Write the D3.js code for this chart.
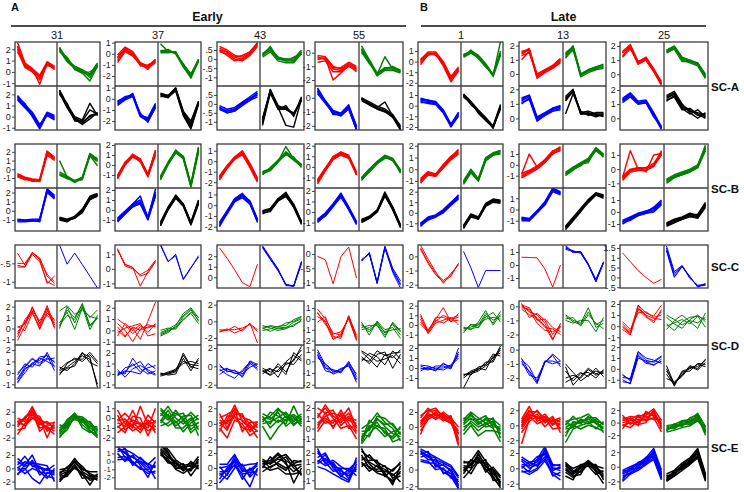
<!DOCTYPE html>
<html><head><meta charset="utf-8">
<script src="https://cdn.jsdelivr.net/npm/d3@7"></script>
<style>body{margin:0;background:#fff}svg{display:block;font-family:Arial,"Liberation Sans",sans-serif}</style>
</head><body>
<script>
// ---------- labels ----------
const panelLetters = ["A", "B"];
const groupLabels = ["Early", "Late"];
const colLabels = ["31", "37", "43", "55", "1", "13", "25"];
const rowLabels = ["SC-A", "SC-B", "SC-C", "SC-D", "SC-E"];
const colors4 = ["#ff0000", "#008000", "#0000ff", "#000000"];
const colors2 = ["#ff0000", "#0000ff"];

// ---------- y domains & ticks (per column: [top panel, bottom panel]) ----------
const domA = [[[-1.25,2.65],[-1.2,2.75]],[[-2.9,1.06],[-2.8,1.15]],[[-1.48,0.94],[-1.46,1.0]],[[-2.44,0.78],[-2.3,0.84]],[[-2.3,1.85],[-2.28,1.84]],[[-0.85,2.26],[-0.8,2.23]],[[-0.83,2.28],[-0.83,2.28]]];
const ticksA = [[[2,1,0,-1],[2,1,0,-1]],[[1,0,-1,-2],[1,0,-1,-2]],[[0.5,0,-0.5,-1],[0.5,0,-0.5,-1]],[[0,-1,-2],[0,-1,-2]],[[1,0,-1,-2],[1,0,-1,-2]],[[2,1,0],[2,1,0]],[[2,1,0],[2,1,0]]];
const domB = [[[-2.15,2.9],[-2.2,2.5]],[[-2.3,2.1],[-2.1,2.2]],[[-2.55,1.64],[-2.4,1.6]],[[-2.0,2.16],[-1.8,2.28]],[[-1.6,2.15],[-1.73,2.35]],[[-2.14,1.93],[-1.92,1.92]],[[-1.33,1.77],[-1.58,2.0]]];
const ticksB = [[[2,1,0,-1],[2,1,0,-1]],[[2,1,0,-1],[2,1,0,-1]],[[1,0,-1,-2],[1,0,-1,-2]],[[2,1,0,-1],[2,1,0,-1]],[[2,1,0,-1],[2,1,0,-1]],[[1,0,-1],[1,0,-1]],[[1,0,-1],[1,0,-1]]];
const domC = [[-1.17,0.0],[-1.32,1.64],[-1.02,3.07],[-1.2,0.32],[-2.23,0.8],[-1.77,1.54],[-0.54,1.65]];
const ticksC = [[-0.5,-1],[1,0,-1],[2,1,0],[0,-0.5,-1],[0,-1,-2],[1,0,-1],[1.5,1,0.5,0,-0.5]];
const domD = [[[-1.52,2.52],[-1.32,2.44]],[[-1.3,2.6],[-1.33,2.76]],[[-2.84,2.44],[-2.36,2.33]],[[-2.4,1.64],[-2.28,1.4]],[[-2.06,2.48],[-2.0,2.3]],[[-2.74,0.37],[-2.7,0.33]],[[-1.7,2.27],[-1.77,2.2]]];
const ticksD = [[[2,1,0,-1],[2,1,0,-1]],[[2,1,0,-1],[2,1,0,-1]],[[2,0,-2],[2,0,-2]],[[1,0,-1,-2],[1,0,-1,-2]],[[2,1,0,-1],[2,1,0,-1]],[[0,-1,-2],[0,-1,-2]],[[2,1,0,-1],[2,1,0,-1]]];
const domE = [[[-3.43,3.5],[-3.1,3.2]],[[-2.95,1.64],[-3.46,1.8]],[[-2.96,2.8],[-2.8,2.8]],[[-1.8,2.58],[-1.96,2.66]],[[-2.67,3.33],[-2.33,2.72]],[[-2.9,3.1],[-2.7,2.78]],[[-3.9,3.3],[-3.05,2.7]]];
const ticksE = [[[2,0,-2],[2,0,-2]],[[1,0,-1,-2],[1,0,-1,-2]],[[2,0,-2],[2,0,-2]],[[2,1,0,-1],[2,1,0,-1]],[[2,0,-2],[2,0,-2]],[[2,0,-2],[2,0,-2]],[[2,0,-2],[2,0,-2]]];

// ---------- series: per column -> [red, green, blue, black] (SC-C: [red, blue]) -> lines of 6 time points ----------
const scA = [
 [ // 31
  [[2.3,0.6,0.2,-0.5,0.8,0.4],[2.6,0.8,0.3,-0.3,0.9,0.5],[2.0,0.4,0.0,-0.7,0.6,0.3],[2.2,0.7,0.3,-1.1,0.8,0.2],[1.8,0.5,0.1,-0.4,0.7,0.5]],
  [[2.0,1.2,0.3,0.0,-0.3,0.6],[2.2,1.0,0.4,0.1,-0.5,0.7],[1.8,1.3,0.2,-0.1,-0.8,0.5],[2.1,1.1,0.5,0.2,-0.2,0.8],[1.9,0.9,0.3,-0.1,0.0,0.4]],
  [[1.8,1.0,0.2,-0.9,0.2,-0.1],[1.5,0.8,0.1,-1.0,0.3,0.0],[1.9,1.1,0.4,-0.7,0.1,-0.3],[1.6,0.9,0.2,-0.8,0.4,0.1],[1.7,1.2,0.0,-1.1,0.2,-0.2]],
  [[2.3,1.0,-0.1,-0.5,0.0,0.2],[2.1,0.8,-0.3,-0.6,0.1,0.3],[2.4,1.1,0.0,-0.3,1.2,0.1],[2.2,0.9,-0.2,-0.7,-0.2,0.4],[2.0,1.2,-0.4,-0.4,0.6,0.2]]
 ],
 [ // 37
  [[-0.4,0.4,0.0,-0.9,-1.2,-0.6],[-0.1,0.6,0.2,-0.8,-1.1,-0.5],[-0.8,0.2,-0.2,-1.0,-1.3,-0.8],[-0.3,0.5,0.1,-1.1,-1.0,-0.7],[-0.6,0.3,-0.1,-0.9,-1.4,-0.5]],
  [[0.2,0.2,0.1,-1.0,-2.0,-0.6],[0.3,0.3,0.0,-0.9,-1.9,-0.5],[0.1,0.1,0.2,-1.1,-2.2,-0.7],[0.9,0.2,0.1,-1.0,-1.8,-0.6],[0.2,0.4,0.0,-1.2,-2.1,-0.5]],
  [[-0.4,0.0,0.3,-1.5,-1.9,-0.6],[-0.2,0.1,0.4,-1.4,-1.8,-0.5],[-0.6,-0.1,0.2,-1.6,-2.0,-0.8],[-0.3,0.2,0.3,-1.3,-2.1,-0.7],[-0.5,0.0,0.5,-1.5,-1.7,-0.4]],
  [[0.4,0.2,0.9,-1.3,-2.4,-0.3],[0.5,0.3,1.0,-1.2,-2.2,-0.2],[0.3,0.1,0.8,-1.4,-2.6,-0.4],[0.4,0.3,0.9,-1.1,-2.0,-0.3],[0.2,0.2,0.7,-1.5,-2.7,-0.5]]
 ],
 [ // 43
  [[0.5,0.4,0.1,0.0,0.3,0.8],[0.7,0.5,0.2,0.1,0.4,0.9],[0.4,0.3,0.0,-0.1,0.2,0.7],[0.6,0.4,0.1,0.2,0.4,0.8],[0.5,0.2,-0.1,0.0,0.3,0.9]],
  [[0.2,0.5,0.0,-0.1,-0.1,0.4],[0.3,0.6,0.1,0.0,0.0,0.5],[0.1,0.4,-0.1,-0.2,-0.2,0.3],[0.2,0.7,0.0,0.0,-0.1,0.4],[0.3,0.5,0.1,-0.1,0.1,0.3]],
  [[-0.2,-0.4,-0.3,0.0,0.3,0.5],[-0.3,-0.5,-0.4,-0.1,0.2,0.6],[-0.1,-0.3,-0.2,0.1,0.4,0.7],[-0.3,-0.4,-0.3,0.0,0.2,0.4],[-0.2,-0.5,-0.4,0.1,0.3,0.6]],
  [[-1.0,0.7,-0.2,-0.2,-0.6,0.3],[-0.9,0.8,-0.1,-0.3,-0.5,0.2],[-1.2,0.6,-0.3,-0.1,-0.7,0.4],[-0.8,0.7,-0.2,-1.2,-1.3,0.3],[-1.1,0.8,-0.3,-0.3,-0.6,0.2]]
 ],
 [ // 55
  [[-0.4,-0.4,-1.2,-1.3,-0.9,-1.2],[-0.2,-0.3,-1.0,-1.2,-0.8,-1.1],[-0.7,-0.6,-1.4,-1.4,-1.0,-1.3],[-0.5,-0.4,-2.0,-1.5,-0.9,-1.4],[-0.3,-0.5,-1.1,-1.1,-0.7,-1.0]],
  [[0.2,-0.6,-1.6,-1.2,-1.2,-1.4],[0.5,-0.5,-1.5,-1.1,-1.1,-1.3],[0.0,-0.7,-1.7,-1.3,-1.3,-1.5],[0.3,-0.6,-1.6,-0.3,-1.2,-1.4],[0.1,-0.8,-1.5,-1.2,-1.0,-1.3]],
  [[0.5,-0.3,-1.0,-1.2,-0.7,-2.2],[0.7,-0.2,-0.9,-1.1,-0.6,-2.0],[0.3,-0.4,-1.1,-1.3,-0.8,-2.3],[0.6,-0.3,-1.0,-1.1,-0.5,-2.1],[0.4,-0.2,-1.2,-1.2,-0.8,-2.3]],
  [[-0.1,-0.4,-0.7,-0.9,-1.3,-2.2],[0.0,-0.3,-0.6,-0.8,-1.2,-2.0],[-0.2,-0.5,-0.8,-1.0,-1.4,-2.3],[-0.1,-0.4,-0.7,-0.3,-1.3,-2.1],[0.0,-0.5,-0.8,-1.0,-1.2,-2.3]]
 ],
 [ // 1
  [[0.0,0.8,0.8,-0.2,-1.6,-0.7],[0.2,0.9,0.9,0.0,-1.4,-0.6],[-0.3,0.7,0.7,-0.4,-1.9,-0.9],[0.1,0.8,0.6,-0.1,-1.5,-0.5],[-0.1,0.6,0.8,-0.3,-1.7,-0.8]],
  [[0.5,0.9,0.5,-0.3,-1.3,0.8],[0.6,1.0,0.6,-0.2,-1.2,1.0],[0.4,0.8,0.4,-0.4,-1.4,0.6],[0.5,1.1,0.5,-0.3,-1.3,1.9],[0.7,0.9,0.3,-0.5,-1.2,0.7]],
  [[0.5,0.4,0.3,-0.5,-1.8,-0.8],[0.6,0.5,0.4,-0.4,-1.7,-0.7],[0.3,0.3,0.2,-0.6,-2.0,-0.9],[0.7,0.5,0.3,-0.5,-1.8,-0.6],[0.4,0.2,0.1,-0.7,-1.9,-1.0]],
  [[1.0,0.3,-0.5,-1.2,-2.0,0.0],[0.9,0.2,-0.6,-1.3,-2.1,-0.2],[1.1,0.4,-0.4,-1.1,-1.9,0.1],[0.8,0.3,-0.7,-1.4,-2.0,-0.3],[1.0,0.1,-0.5,-1.2,-2.1,0.0]]
 ],
 [ // 13
  [[1.4,1.7,-0.2,0.2,0.5,1.0],[1.5,1.8,-0.1,0.3,0.6,1.1],[1.0,1.6,-0.3,0.1,0.4,0.9],[1.6,1.7,-0.2,0.2,0.6,1.0],[1.3,1.5,0.0,0.3,0.4,0.8]],
  [[1.3,1.9,-0.1,0.2,0.4,0.5],[1.4,2.0,0.0,0.3,0.5,0.6],[1.1,1.8,-0.2,0.1,0.3,0.4],[1.5,1.9,-0.1,0.3,0.5,0.7],[1.2,1.7,0.0,0.2,0.4,0.5]],
  [[1.2,1.5,0.0,0.3,0.6,0.8],[1.3,1.6,0.1,0.4,0.7,0.9],[1.0,1.4,-0.1,0.2,0.5,0.7],[1.4,1.6,0.0,0.3,0.7,0.8],[1.1,1.3,-0.2,0.2,0.5,0.6]],
  [[1.3,1.9,0.4,0.3,0.3,0.3],[1.4,1.8,0.3,0.4,0.2,0.2],[0.3,1.7,0.5,0.2,0.4,0.4],[1.2,1.9,0.4,0.5,0.3,0.1],[1.5,2.0,0.3,0.3,0.1,0.3]]
 ],
 [ // 25
  [[1.5,2.0,0.8,1.1,0.3,-0.7],[1.6,2.1,0.9,1.2,0.4,-0.6],[1.3,1.9,0.7,1.0,0.2,-0.8],[1.5,2.0,0.8,1.2,0.3,-0.5],[1.2,1.8,0.9,1.0,0.2,-0.7]],
  [[1.6,1.9,1.1,0.9,0.7,-0.2],[1.7,2.0,1.2,1.0,0.8,-0.1],[1.5,1.8,1.0,0.8,0.6,-0.3],[1.7,1.9,1.1,1.0,0.7,-0.2],[1.6,1.8,0.9,0.9,0.8,0.0]],
  [[1.3,1.7,1.1,1.2,0.3,-0.7],[1.4,1.8,1.2,1.3,0.4,-0.6],[1.2,1.6,1.0,1.1,0.2,-0.8],[1.3,1.7,1.1,1.2,0.3,-0.7],[1.1,1.5,1.0,1.1,0.1,-0.6]],
  [[1.4,1.7,0.8,0.5,0.4,0.2],[1.5,1.8,0.9,0.6,0.2,0.3],[1.2,1.6,0.7,0.3,0.6,0.1],[1.6,1.9,1.0,0.4,0.0,0.4],[1.3,1.5,0.6,0.7,0.3,0.0]]
 ]
];

const scB = [
 [ // 31
  [[-0.7,-1.0,-1.2,-1.3,1.9,1.2],[-0.5,-0.9,-1.1,-1.2,2.1,1.4],[-0.9,-1.1,-1.3,-1.4,1.7,1.0],[-0.6,-1.0,-1.4,-1.2,2.0,1.3],[-0.8,-1.2,-1.2,-1.3,1.6,1.1]],
  [[-0.5,-0.9,-1.4,-1.0,1.7,1.0],[-0.3,-0.8,-1.3,-0.9,1.8,1.1],[-0.7,-1.0,-1.5,-1.1,1.5,0.9],[1.0,-0.9,-1.4,-1.0,1.6,0.4],[-0.6,-1.1,-1.3,-1.2,1.8,1.2]],
  [[-1.0,-1.1,-1.0,-1.0,2.2,1.5],[-0.9,-1.0,-0.9,-0.9,2.4,1.7],[-1.2,-1.2,-1.1,-1.1,2.0,1.3],[-1.0,-1.1,-1.0,-1.2,2.3,1.6],[-1.1,-1.0,-1.1,-0.9,2.1,1.4]],
  [[-0.8,-1.0,-0.7,0.0,1.4,1.7],[-0.7,-0.9,-0.6,0.2,1.5,1.8],[-0.9,-1.1,-0.8,-0.2,1.3,1.6],[-0.8,-1.0,-0.8,0.1,1.6,1.9],[-1.0,-1.2,-0.6,-0.1,1.2,1.7]]
 ],
 [ // 37
  [[-1.2,0.2,0.9,0.5,-1.0,1.2],[-1.0,0.3,1.0,0.6,-0.9,1.4],[-1.4,0.0,0.8,0.4,-1.2,1.0],[-1.1,0.2,1.1,0.6,-1.0,1.3],[-1.3,0.1,0.9,0.3,-1.1,1.5]],
  [[-1.3,0.2,1.3,0.8,-2.0,1.5],[-1.1,0.3,1.4,0.9,-1.9,1.7],[-1.5,0.1,1.2,0.7,-2.2,1.3],[-1.2,0.2,1.5,0.8,-2.0,1.8],[-1.4,0.0,1.3,0.6,-2.1,1.4]],
  [[-1.0,-0.3,0.5,0.8,-0.8,1.6],[-0.8,-0.1,0.6,1.0,-0.7,1.8],[-1.2,-0.4,0.4,0.6,-1.0,1.4],[-0.9,-0.2,0.6,1.4,-0.8,2.1],[-1.1,-0.4,0.3,0.7,-0.9,1.5]],
  [[-1.4,0.2,1.3,0.5,-1.3,0.8],[-1.2,0.3,1.4,0.6,-1.2,0.9],[-1.6,0.1,1.2,0.4,-1.5,0.6],[-1.3,0.2,1.5,0.6,-1.3,1.0],[-1.5,0.0,1.2,0.4,-1.4,0.7]]
 ],
 [ // 43
  [[-1.6,-0.5,0.3,0.8,-0.4,-1.8],[-1.4,-0.4,0.4,0.9,-0.3,-1.7],[-1.8,-0.6,0.2,0.7,-0.6,-2.0],[-1.5,-0.5,0.4,1.0,-0.2,-1.6],[-1.7,-0.7,0.2,0.6,-0.5,-1.9]],
  [[-1.1,-0.8,0.0,0.8,0.2,-0.4],[-1.0,-0.7,0.1,0.9,0.3,-0.3],[-1.2,-0.9,-0.1,0.7,0.1,-0.5],[-1.0,-0.8,0.0,1.4,0.2,-0.4],[-1.3,-0.6,0.1,0.6,0.4,-0.6]],
  [[-1.8,-0.6,0.5,0.9,0.3,-1.4],[-1.6,-0.5,0.6,1.0,0.4,-1.3],[-2.0,-0.7,0.4,0.8,0.2,-1.6],[-1.7,-0.6,0.6,1.1,0.3,-1.4],[-1.9,-0.8,0.3,0.7,0.1,-1.5]],
  [[-0.6,-0.4,0.5,1.0,0.0,-1.6],[-0.5,-0.3,0.6,1.1,0.1,-1.5],[-0.8,-0.5,0.4,0.9,-0.2,-1.8],[-0.6,-0.4,0.6,1.2,0.0,-1.6],[-0.7,-0.6,0.4,0.8,-0.1,-1.7]]
 ],
 [ // 55
  [[-1.4,-0.2,0.8,1.3,1.0,-0.6],[-1.2,-0.1,0.9,1.4,1.1,-0.5],[-1.6,-0.4,0.7,1.2,0.9,-0.8],[-1.3,-0.2,1.0,1.4,1.0,-0.6],[-1.5,-0.3,0.7,1.1,0.8,-0.7]],
  [[-1.1,-0.3,0.4,1.0,0.7,-0.4],[-1.0,-0.2,0.5,1.1,0.8,-0.3],[-1.3,-0.4,0.3,0.9,0.6,-0.5],[-1.1,-0.3,0.5,1.0,0.6,-0.4],[-1.2,-0.5,0.3,0.8,0.8,-0.6]],
  [[-0.8,-0.2,0.7,1.6,0.4,-1.0],[-0.7,-0.1,0.8,1.8,0.5,-0.9],[-1.0,-0.3,0.6,1.4,0.3,-1.2],[-0.8,-0.2,0.7,1.7,0.4,-1.0],[-0.9,-0.4,0.5,1.5,0.2,-1.1]],
  [[-0.8,-0.5,0.1,1.7,0.4,-1.3],[-0.7,-0.4,0.2,1.8,0.5,-1.2],[-0.9,-0.6,0.0,1.5,0.3,-1.5],[-0.8,-0.5,0.1,1.9,0.4,-1.3],[-1.0,-0.6,0.0,1.6,0.2,-1.4]]
 ],
 [ // 1
  [[-1.0,-0.3,-0.5,0.3,1.0,1.5],[-0.8,-0.2,-0.4,0.4,1.1,1.6],[-1.2,-0.4,-0.6,0.2,0.9,1.4],[-0.9,-0.3,-0.5,0.3,1.0,1.7],[-1.1,-0.5,-0.6,0.1,0.8,1.3]],
  [[-1.1,-0.1,-0.9,0.9,1.3,1.5],[-1.0,0.0,-0.8,1.0,1.4,1.6],[-1.2,-0.2,-1.0,0.8,1.2,1.4],[-1.1,-0.1,-0.9,0.9,1.3,1.6],[-1.3,-0.3,-1.0,0.7,1.2,1.3]],
  [[-1.1,-0.5,-0.3,0.2,0.9,1.5],[-1.0,-0.4,-0.2,0.3,1.0,1.6],[-1.3,-0.6,-0.4,0.1,0.8,1.4],[-1.1,-0.5,-0.3,0.2,0.9,1.7],[-1.2,-0.7,-0.4,0.0,0.7,1.3]],
  [[-1.3,-0.2,-0.5,0.8,1.2,1.1],[-1.2,-0.1,-0.4,0.9,1.3,1.2],[-1.5,-0.3,-0.6,0.7,1.1,1.0],[-1.3,-0.2,-0.5,0.8,1.2,1.1],[-1.4,-0.4,-0.6,0.6,1.0,0.9]]
 ],
 [ // 13
  [[-1.0,-0.6,-0.2,0.4,1.2,1.5],[-0.8,-0.5,-0.1,0.5,1.3,1.6],[-1.2,-0.8,-0.4,0.2,1.0,1.4],[-0.9,1.0,-0.2,0.4,1.2,1.7],[-1.1,-0.7,-0.3,0.3,1.1,1.3]],
  [[-0.8,-0.3,0.1,0.5,1.5,0.9],[-0.7,-0.2,0.2,0.6,1.6,1.0],[-1.0,-0.5,0.0,0.4,1.3,0.8],[-0.8,-0.3,0.1,0.2,1.5,0.9],[-0.9,-0.4,-0.1,0.6,1.4,0.7]],
  [[-0.8,-0.9,-0.2,0.6,1.8,1.5],[-0.7,-0.8,-0.1,0.7,1.9,1.6],[-1.0,-1.0,-0.3,0.5,1.7,1.4],[-0.8,-0.9,-0.2,0.6,1.8,1.5],[-0.9,-1.0,-0.3,0.4,1.6,1.3]],
  [[-1.6,-0.8,0.0,0.8,1.4,1.2],[-1.5,-0.7,0.1,0.9,1.5,1.3],[-1.8,-1.0,-0.2,0.7,1.3,1.1],[-1.6,-0.8,0.0,0.8,1.4,1.2],[-1.7,-0.9,-0.1,0.6,1.3,1.0]]
 ],
 [ // 25
  [[-0.6,-0.1,0.0,0.0,0.3,1.1],[-0.5,0.0,0.1,0.1,0.4,1.2],[-0.8,-0.2,-0.1,-0.1,0.2,1.0],[-0.6,1.3,0.0,0.1,0.2,1.3],[-0.7,-0.1,0.1,-0.2,1.0,1.1]],
  [[-0.8,-0.5,-0.3,-0.1,0.2,1.5],[-0.7,-0.4,-0.2,0.0,0.3,1.6],[-0.9,-0.6,-0.4,-0.2,0.1,1.4],[-0.8,-0.5,-0.3,-0.1,0.2,1.7],[-1.0,-0.6,-0.4,-0.2,0.1,1.3]],
  [[-0.8,-0.5,-0.2,0.0,0.2,0.8],[-0.7,-0.4,-0.1,0.1,0.3,0.9],[-1.0,-0.6,-0.3,-0.1,0.1,0.7],[-0.8,-0.5,-0.2,0.0,0.4,1.0],[-0.9,-0.7,-0.3,-0.1,0.0,0.6]],
  [[-1.0,-0.7,-0.5,-0.2,-0.4,0.6],[-0.9,-0.6,-0.4,-0.1,-0.3,0.7],[-1.1,-0.8,-0.6,-0.3,-0.5,0.5],[-1.0,-0.7,-0.5,-0.2,-0.2,0.8],[-1.2,-0.9,-0.6,-0.4,-0.5,0.4]]
 ]
];

const scC = [
 [ [[-0.22,-0.55,-0.2,-0.35,-0.85,-1.05],[-0.55,-0.6,-0.2,-0.4,-1.05,-0.85],[-0.6,-0.6,-0.25,-0.45,-1.0,-1.1],[-0.5,-0.5,-0.22,-0.38,-0.8,-1.0]],
   [[0.0,-0.52,-0.22,-0.53,-0.85,-1.17]] ],
 [ [[1.3,0.3,0.1,-1.2,-0.2,0.5],[1.4,0.2,0.0,-0.4,-0.1,0.6],[1.3,0.3,0.1,-0.5,-0.3,0.5]],
   [[1.7,0.5,0.9,-0.7,0.1,0.8],[1.6,0.5,1.0,-0.75,0.05,0.9]] ],
 [ [[2.8,1.8,0.7,-0.5,-0.9,1.25]],
   [[2.9,1.8,0.7,-0.7,-0.8,1.5],[3.0,1.9,0.8,-0.75,-0.85,1.4],[2.8,1.7,0.6,-0.65,-0.9,1.3],[2.9,1.75,0.7,-0.8,-0.8,1.5]] ],
 [ [[-0.08,-0.2,-1.05,-0.1,0.25,-0.85]],
   [[-0.25,0.05,-1.0,0.28,-0.5,-0.95],[-0.2,0.0,-1.05,0.2,-0.6,-1.1],[-0.25,0.05,-1.0,0.25,-0.65,-1.2],[-0.22,0.03,-1.02,0.22,-0.55,-1.05]] ],
 [ [[0.6,-0.4,-1.2,-1.7,-1.3,-0.5],[0.8,-0.2,-1.1,-1.9,-1.2,-0.6],[0.5,-0.5,-1.3,-1.8,-1.4,-0.5]],
   [[0.35,-0.8,-2.2,-1.0,-1.0,-1.0]] ],
 [ [[0.6,0.58,0.55,-0.3,-1.7,0.0]],
   [[1.5,1.0,1.05,0.1,-1.2,0.2],[1.3,1.1,0.9,0.0,-1.3,0.15],[1.4,0.95,1.0,0.05,-1.1,0.25],[1.2,1.05,1.0,0.0,-1.25,0.2]] ],
 [ [[1.25,0.8,0.35,0.0,-0.3,-0.1]],
   [[1.6,0.3,0.6,0.0,-0.45,-0.35],[1.4,0.1,0.55,0.05,-0.5,-0.3],[1.5,0.2,0.6,-0.05,-0.4,-0.35],[1.35,0.0,0.55,0.0,-0.45,-0.4]] ]
];

const scD = [
 [ // 31
  [[-0.3,0.5,1.9,0.4,2.1,0.3],[0.1,0.4,1.5,0.0,1.4,0.7],[-0.8,0.8,1.7,0.7,1.8,0.1],[-1.1,0.2,2.0,0.5,1.2,0.5],[0.2,-0.2,1.4,0.2,1.9,0.0],[-0.5,0.6,1.6,-0.1,1.6,0.8]],
  [[0.2,1.7,1.0,2.2,0.2,0.9],[0.0,2.0,0.5,2.0,-0.1,1.2],[1.6,2.1,1.3,1.7,1.1,0.9],[0.5,1.5,-0.1,1.9,1.0,1.7],[0.3,1.2,0.8,2.3,0.3,1.0]],
  [[-0.9,0.3,0.8,0.6,1.8,0.5],[-0.5,0.5,1.2,0.9,1.3,1.0],[-0.2,0.8,0.5,1.3,1.0,0.6],[-0.8,0.0,0.9,1.1,1.6,0.9],[0.0,0.6,1.3,0.7,1.2,1.3],[-0.6,0.4,0.7,1.4,1.5,0.2]],
  [[0.2,0.5,1.0,1.5,1.2,-1.0],[0.5,0.2,0.8,1.8,0.9,0.6],[-0.2,0.8,1.3,1.0,1.6,0.8],[0.0,0.4,0.6,1.7,1.4,-1.3],[0.3,0.9,1.2,1.2,1.8,1.0]]
 ],
 [ // 37
  [[1.0,0.5,-0.3,0.3,0.2,0.5],[0.3,-0.5,0.2,-0.8,0.8,2.5],[-0.5,0.6,0.0,0.5,-0.2,0.6],[0.6,0.0,-1.0,0.1,0.5,0.3],[-0.2,0.2,0.4,0.6,-0.5,-0.3],[0.0,-0.6,0.3,0.0,0.3,0.4]],
  [[-0.3,0.0,0.2,1.2,1.8,0.9],[-0.5,-0.2,0.4,1.5,2.0,1.1],[0.0,0.2,0.1,1.0,1.5,0.6],[-0.2,0.1,0.5,1.3,1.9,0.8],[-0.4,-0.1,0.3,0.9,1.6,1.2]],
  [[0.2,0.0,1.5,0.5,0.0,0.3],[-0.2,0.6,0.8,1.2,0.2,-0.1],[0.0,0.3,0.2,0.0,1.0,0.5],[0.4,-0.3,0.5,0.8,0.4,0.0],[-0.1,0.2,1.0,0.2,0.6,0.8]],
  [[0.0,0.1,0.3,1.8,0.6,1.3],[-0.2,0.0,0.5,1.2,0.9,0.8],[0.1,-0.1,0.0,1.5,0.3,1.5],[-0.1,0.2,0.4,1.0,1.2,1.0],[0.0,0.0,0.2,2.0,0.7,0.5]]
 ],
 [ // 43
  [[-1.2,-0.9,-1.4,-1.0,-0.3,-1.0],[-1.0,-1.1,-0.6,-1.2,-0.2,-2.6],[-1.3,-1.0,-1.0,-0.8,-0.4,-1.2]],
  [[-0.7,-0.6,-0.9,-0.8,-0.1,0.3],[-1.1,-0.9,-0.6,-0.5,0.2,0.6],[-0.5,-0.8,-1.1,-0.9,-0.4,0.0],[-0.9,-0.5,-0.7,-0.2,0.0,0.5],[-0.8,-1.2,-0.8,-0.7,-0.6,0.2]],
  [[-0.5,-0.2,-0.8,-0.6,0.5,0.0],[0.2,-0.6,-0.4,-1.2,0.3,-0.2],[-0.9,-0.3,-0.5,-0.8,-0.1,0.3],[-0.3,-0.9,-1.3,-0.4,0.4,-0.4],[0.0,-0.5,-0.7,-1.0,0.6,0.2]],
  [[-0.4,-0.9,0.3,-0.6,0.8,1.8],[-0.8,-0.3,-0.6,0.2,0.6,2.2],[-0.2,-0.6,0.0,-0.9,1.5,0.8],[-0.6,-0.2,-1.2,0.4,0.2,1.3],[-0.5,-1.0,-0.4,0.5,1.2,0.6]]
 ],
 [ // 55
  [[0.9,0.0,-1.3,-1.5,0.2,-1.7],[0.5,-0.3,-1.9,-1.4,0.1,-2.0],[-0.3,0.2,-1.6,-1.8,0.3,-1.5],[0.6,-0.5,-1.4,-1.2,0.0,-1.9],[0.2,-0.2,-1.8,-1.6,0.2,-1.8]],
  [[-0.5,-1.2,-0.3,-1.3,-0.5,-1.5],[-0.8,-0.6,-0.6,-1.7,-0.3,-1.1],[-0.3,-1.5,-0.2,-1.0,-0.8,-1.8],[-0.6,-1.0,-0.5,-1.5,-0.4,-1.2],[-1.0,-0.8,-0.4,-1.2,-1.0,-0.9]],
  [[1.0,-0.3,-0.9,-0.7,-0.2,-1.6],[0.5,-0.6,-0.7,-1.0,0.0,-1.3],[0.8,-0.5,-1.1,-0.8,-0.3,-1.8],[0.3,-0.2,-0.8,-0.9,-0.1,-1.1],[0.6,-0.8,-1.0,-0.6,-0.4,-1.5]],
  [[0.8,0.2,-0.5,0.6,0.3,1.0],[0.0,0.7,0.4,-0.3,0.9,0.2],[0.4,-0.2,0.6,0.8,-0.6,0.6],[0.9,0.5,0.0,0.2,0.5,-0.2],[0.2,0.0,0.9,0.5,0.7,0.8]]
 ],
 [ // 1
  [[0.9,-0.8,0.4,1.0,0.6,0.8],[0.3,-0.5,0.6,1.8,0.3,1.2],[0.6,-0.9,0.2,0.5,0.8,0.0],[1.1,-0.6,0.5,0.2,0.7,1.0],[0.1,-0.7,0.8,0.8,0.4,0.5]],
  [[-0.4,-0.2,0.0,1.2,0.5,0.9],[-0.8,0.1,-0.3,0.8,1.3,0.3],[-0.2,-0.5,0.3,1.5,0.0,1.1],[-0.6,0.0,0.1,0.6,0.8,0.6],[-0.3,-0.4,-0.2,1.0,0.2,1.4]],
  [[0.2,-0.1,-0.2,0.4,0.1,1.6],[-0.3,0.1,0.0,0.0,0.3,1.2],[0.0,-0.2,0.2,0.2,-0.1,2.0],[-0.1,0.0,-0.3,0.5,0.0,1.4],[0.3,0.2,-0.1,-0.2,0.2,1.0]],
  [[-0.7,-0.5,-0.1,0.4,1.0,1.8],[-2.0,-0.6,-0.3,0.2,0.8,2.2],[-0.8,-0.3,0.0,-0.2,1.2,1.5],[-1.0,-0.4,-0.2,0.6,0.6,2.0],[-0.6,-0.7,0.1,0.3,1.4,1.2]]
 ],
 [ // 13
  [[0.1,-0.4,-0.6,-1.2,-2.3,-1.4],[-0.1,-0.2,-0.9,-1.5,-1.6,-2.0],[0.2,-0.8,-0.5,-1.0,-2.0,-1.3],[0.0,-0.3,-1.2,-1.7,-1.8,-1.5],[-0.2,-0.6,-0.8,-1.4,-2.4,-1.2],[0.1,-0.1,-1.0,-0.9,-1.5,-1.8]],
  [[-0.6,-1.0,-1.2,-0.1,-1.5,-1.2],[-0.9,-0.8,-1.4,-0.6,-1.2,-1.6],[-1.0,-1.2,-1.0,-1.0,-1.8,-0.8],[-0.7,-1.1,-1.3,-0.4,-1.3,-1.0]],
  [[-0.6,-1.6,-2.4,-0.9,-0.3,-0.8],[-1.0,-1.5,-2.2,-0.8,-1.0,-0.8],[-0.8,-1.8,-2.0,-0.9,-0.4,-1.2],[-0.7,-1.2,-2.3,-0.8,-0.8,-1.0]],
  [[-1.2,-2.5,-1.9,-1.3,-1.7,-1.5],[-2.0,-1.8,-2.0,-1.4,-1.8,-1.6],[-1.0,-1.6,-2.2,-1.8,-1.5,-1.7],[-2.3,-2.0,-1.6,-1.9,-1.3,-1.9],[-1.5,-2.2,-1.7,-1.6,-2.0,-1.4]]
 ],
 [ // 25
  [[0.2,-0.5,1.9,1.2,0.9,1.9],[-0.3,-0.8,1.5,0.8,0.5,1.3],[0.0,-0.6,1.6,1.0,0.7,0.6],[0.4,-0.3,1.2,1.3,0.8,1.0],[-0.1,-0.7,1.8,0.9,0.3,1.5]],
  [[0.8,0.2,-0.2,0.6,1.0,0.4],[-0.3,0.5,1.0,0.4,-0.2,1.2],[0.2,-0.4,0.4,0.8,0.9,-0.1],[1.0,0.6,0.1,0.5,0.3,0.8],[0.0,0.3,0.6,0.2,0.9,0.6]],
  [[-0.6,-1.0,1.5,0.8,0.6,1.1],[-1.2,-1.3,1.2,0.5,0.4,0.7],[-0.8,-0.9,1.6,1.0,0.8,0.5],[-1.0,-1.4,1.0,0.7,0.3,0.9],[-0.5,-1.1,1.3,0.6,0.7,1.2]],
  [[0.3,-1.4,-0.5,0.1,0.2,0.8],[-0.5,-1.5,-0.3,-0.2,0.5,0.4],[-0.9,-1.2,-0.6,0.3,0.0,0.9],[0.0,-1.6,-0.2,0.0,0.4,0.2],[-0.2,-1.3,-0.7,0.2,-0.1,0.6]]
 ]
];

const scE = [
 [ // 31
  [[0.5,0.8,2.8,0.5,-0.8,-0.4],[-1.5,0.2,1.8,0.8,0.2,0.3],[0.0,1.2,2.2,-0.5,-0.3,-1.0],[1.0,0.5,1.5,1.3,-1.0,0.0],[-0.8,-0.5,2.5,0.0,0.5,-0.6],[0.3,0.0,1.2,1.0,-2.0,0.5],[-0.3,1.0,2.0,-1.0,0.0,-0.2],[0.6,-0.2,1.0,0.3,-0.5,-1.5]],
  [[-1.0,0.2,1.6,0.5,-0.5,-1.2],[-2.0,-0.3,1.2,1.0,0.0,-0.8],[-0.5,0.5,1.8,0.0,-1.0,-1.5],[-1.5,0.0,1.0,0.8,-0.3,-0.3],[0.0,-0.5,1.4,1.2,0.3,-1.8],[-1.2,0.8,1.7,-0.5,-1.2,-0.5],[-0.8,0.3,0.8,0.4,0.5,-1.0],[-1.8,-0.8,1.3,0.6,-0.8,-2.0]],
  [[1.5,0.5,2.0,-0.5,-0.8,-0.3],[0.0,1.0,0.5,0.3,-1.2,-1.5],[-0.8,-0.2,1.2,-1.0,0.0,-0.6],[0.5,1.8,0.3,0.0,-0.3,0.5],[-0.3,0.0,-1.5,-2.3,-0.6,-1.0],[1.0,0.3,0.8,0.6,0.4,-2.0],[0.2,-0.8,0.0,-0.5,-1.5,0.0],[-1.0,0.6,1.0,0.2,-0.2,-0.8]],
  [[-1.0,-0.5,1.0,-0.5,-1.2,-1.0],[-2.0,-0.8,0.5,-1.0,-1.5,-1.5],[-0.2,0.0,1.5,0.0,-0.8,-1.3],[-1.5,-1.2,0.2,-0.8,-2.5,-0.8],[-0.6,-0.3,1.2,0.3,-1.0,-1.8],[-1.2,-1.0,0.6,-1.5,-1.3,-1.2],[-0.8,0.2,0.9,-0.2,-0.5,-0.5],[-1.8,-0.6,0.0,-0.7,-1.8,-1.5]]
 ],
 [ // 37
  [[-0.5,-0.8,0.8,-0.9,-0.6,-0.4],[0.3,-1.2,-0.6,-0.5,-1.3,-0.8],[-1.0,-0.3,-1.0,1.2,-0.7,-1.2],[-0.2,0.5,-0.4,-1.2,0.3,-0.5],[-1.5,-0.9,-0.2,-0.6,-1.0,1.0],[0.8,-0.6,-1.3,-0.8,-0.4,-1.5],[-0.8,-1.5,0.2,0.0,-1.8,-0.2],[-0.3,-0.1,-0.8,-1.5,-0.2,-0.9]],
  [[0.5,-0.2,0.8,-0.3,-0.8,-0.5],[-0.3,0.8,-0.5,0.2,0.3,-1.2],[1.0,0.2,-1.0,-1.0,-0.2,0.3],[-0.8,-0.5,0.3,0.5,-1.2,-0.4],[0.2,1.2,0.0,-0.6,0.0,-1.8],[-0.2,-0.8,-0.3,-1.4,-0.5,0.0],[0.8,0.0,0.5,0.0,-1.5,-0.8],[-0.5,0.4,-0.8,-0.2,0.6,-0.2]],
  [[1.8,1.0,0.5,0.0,-0.8,-0.5],[0.5,0.6,-0.3,-0.8,-1.5,-1.2],[2.5,1.5,1.0,0.3,-0.3,-0.8],[1.0,0.0,0.8,-0.5,-2.0,0.0],[1.5,1.2,-0.5,0.5,-0.5,-2.2],[0.2,0.3,0.0,-1.0,-1.0,-0.6],[2.0,0.5,0.6,-0.2,-1.2,-1.5],[1.2,1.6,-0.2,0.0,-0.4,0.5]],
  [[2.0,1.0,-0.3,-0.8,-0.5,-0.2],[1.2,0.0,-0.8,-1.0,-1.2,0.3],[2.5,1.5,0.2,-0.5,-0.3,-0.8],[0.8,0.3,-1.0,-1.5,-0.8,0.0],[1.6,0.8,-0.6,-0.3,-1.8,-0.5],[1.0,-0.2,-0.2,-1.2,0.0,-1.0],[2.2,1.2,-0.9,-0.6,-0.6,0.6],[1.4,0.5,0.0,-1.0,-1.0,-0.4]]
 ],
 [ // 43
  [[0.0,0.5,2.4,0.3,-0.5,-0.3],[1.3,-0.5,1.5,1.0,0.0,-1.0],[-1.0,1.0,1.0,-0.5,-0.8,0.3],[0.5,0.0,2.0,0.8,0.5,-0.5],[-0.5,-1.8,0.5,0.0,-1.5,-0.8],[0.8,1.2,1.8,-1.0,0.2,0.2],[-0.3,0.3,0.8,0.5,-0.3,-1.8],[0.2,-0.8,1.2,1.3,-1.0,0.0]],
  [[0.5,1.0,2.0,0.8,1.2,0.5],[0.0,0.3,0.8,1.5,0.3,1.0],[1.0,-0.5,0.5,0.0,2.3,0.2],[0.8,0.6,1.5,-0.3,0.5,1.3],[-0.3,-2.0,-0.5,0.6,1.0,0.0],[1.3,0.8,0.2,1.0,-0.2,0.8],[0.2,1.5,1.0,0.4,0.8,-0.3],[0.6,0.0,1.8,1.2,0.0,0.6]],
  [[-0.5,-0.5,1.6,-0.5,-0.2,0.5],[-1.5,0.0,0.8,-1.0,-2.5,0.0],[0.2,-1.0,1.2,0.3,0.5,0.6],[-1.0,-0.2,0.3,-0.8,-0.6,-0.5],[0.5,0.5,1.8,0.0,-1.0,0.8],[-2.0,-0.8,0.5,-1.5,0.0,-1.0],[0.0,0.2,1.0,-0.3,-0.4,0.3],[-0.7,-1.5,0.0,0.5,-1.2,-0.2]],
  [[0.5,0.8,1.8,0.5,-0.5,0.3],[1.0,0.0,0.8,1.5,0.0,-0.8],[0.0,1.5,0.3,-0.3,1.0,0.8],[1.2,0.5,1.2,0.8,-2.0,0.0],[-0.5,0.2,0.6,0.0,0.5,-1.0],[0.8,1.0,2.0,1.0,0.3,0.5],[0.3,-0.3,0.0,-0.8,-0.8,-0.5],[0.6,0.6,1.4,1.8,0.6,1.0]]
 ],
 [ // 55
  [[1.0,2.3,1.2,0.8,1.5,0.2],[0.3,1.0,0.5,1.8,0.5,-0.5],[2.0,1.5,1.8,0.3,1.0,0.8],[-0.3,0.8,0.2,1.0,2.0,0.0],[1.2,2.0,1.0,0.0,0.3,-1.0],[0.5,1.2,1.5,1.2,0.8,0.5],[1.5,0.5,0.8,0.6,1.2,-0.3],[0.0,1.6,0.0,1.5,0.0,0.3]],
  [[-0.8,0.0,1.0,0.2,-0.5,-0.8],[-1.5,-0.5,0.3,-0.3,-1.0,-0.3],[0.0,0.5,1.5,0.6,0.0,-1.2],[-1.0,0.2,0.6,-0.5,-0.8,0.2],[-0.3,-0.2,1.2,1.0,0.3,-0.5],[-1.2,0.8,0.2,0.0,-1.3,-1.0],[-0.5,-0.8,0.9,0.4,0.5,-0.6],[-1.4,0.3,0.0,-0.8,-0.3,0.0]],
  [[2.0,1.2,0.8,0.0,-0.5,0.5],[1.0,1.8,0.3,-0.5,-1.0,1.5],[2.5,0.8,1.2,0.5,0.0,0.0],[0.5,0.2,-0.3,-0.8,-1.2,0.8],[1.5,2.0,0.5,0.3,0.3,-0.5],[1.2,0.6,1.0,-0.3,-0.2,1.2],[2.2,1.0,0.0,0.2,-0.8,0.3],[0.8,1.4,0.6,-0.6,0.2,1.0]],
  [[1.5,1.0,0.5,0.2,-0.5,0.3],[2.2,1.5,1.0,0.5,0.0,1.0],[0.8,0.5,-0.2,-0.5,-1.0,-0.5],[1.2,1.8,0.8,-0.2,-1.5,0.6],[1.8,0.3,0.2,0.6,-0.8,-0.2],[0.5,1.2,1.2,-0.6,0.2,0.8],[2.5,0.8,0.0,0.0,-0.3,-1.2],[1.0,0.0,0.6,-0.4,-1.2,0.0]]
 ],
 [ // 1
  [[0.5,2.0,2.2,1.5,1.0,-1.0],[-1.0,1.5,1.8,1.2,1.5,-2.2],[1.2,2.5,1.5,1.8,0.8,-0.5],[0.0,1.2,2.0,1.0,0.5,-1.5],[0.8,1.8,1.2,2.0,1.2,0.0],[-0.5,1.0,1.6,0.8,1.4,-1.8],[1.5,2.2,2.5,1.3,0.6,-0.8],[0.3,1.6,1.0,1.6,1.0,-2.5]],
  [[0.5,1.8,0.5,1.0,0.5,-0.5],[-0.5,0.8,0.0,0.5,1.2,-1.5],[1.2,1.0,1.0,1.5,0.0,0.0],[0.0,0.5,-0.5,0.3,0.8,-1.0],[1.0,2.0,1.2,0.5,-0.2,-2.0],[0.3,1.2,0.3,1.2,1.0,0.2],[-1.0,0.2,-1.2,-0.5,-0.5,-0.8],[0.8,1.5,0.8,0.0,0.3,-0.3]],
  [[2.2,1.5,1.0,0.5,0.0,-1.5],[1.5,1.8,0.5,0.0,-0.5,-2.0],[2.5,2.0,1.5,1.0,0.5,-0.8],[1.0,0.8,0.8,-0.3,-0.8,-2.3],[2.0,1.2,1.2,0.8,0.3,-1.0],[1.8,2.2,0.3,0.6,-0.2,-1.8],[1.2,1.0,0.0,0.2,-1.0,-1.2],[2.3,1.6,1.4,-0.5,0.0,-2.2]],
  [[0.0,0.5,1.8,0.5,-0.5,-1.5],[-1.0,0.0,1.2,0.0,-1.0,-2.0],[0.8,1.0,2.3,1.0,0.0,-1.0],[0.3,-0.5,1.0,0.8,-0.8,-2.2],[-0.5,0.8,1.5,-0.3,0.3,-0.8],[0.5,0.2,2.0,0.3,-0.2,-1.8],[-0.2,1.2,0.8,1.2,-1.3,-1.2],[1.0,0.6,1.4,0.0,0.0,-1.6]]
 ],
 [ // 13
  [[0.0,1.5,1.0,0.8,0.5,0.0],[-2.5,0.8,1.5,0.3,1.0,-0.5],[0.8,2.5,0.5,1.2,0.0,0.8],[-0.5,1.0,2.0,0.5,1.2,-1.0],[0.5,2.0,0.8,1.5,0.2,0.3],[-1.0,0.5,1.2,-0.2,0.8,0.5],[0.3,1.8,1.8,1.0,-0.5,-0.3],[-0.2,1.2,0.2,0.6,0.6,1.0]],
  [[-0.3,0.3,0.5,0.8,0.3,-0.3],[-2.3,-0.5,0.0,0.3,0.8,-1.0],[0.5,0.8,1.0,1.5,0.5,0.3],[-1.0,0.0,-0.5,0.0,-0.3,-0.8],[0.0,1.2,0.3,1.0,1.0,0.0],[-0.5,-0.3,0.8,0.5,-0.5,0.5],[-1.5,0.5,0.2,1.2,0.2,-0.5],[0.3,0.0,0.6,0.2,0.6,0.2]],
  [[0.5,0.3,0.8,2.0,0.0,0.0],[1.5,0.8,0.3,1.2,-0.5,-1.0],[-0.5,-0.3,1.2,2.8,0.5,0.3],[1.0,0.0,0.5,1.5,-1.0,-0.5],[0.0,0.8,1.0,2.3,0.3,0.5],[-0.3,-0.8,-0.2,1.0,-0.8,-1.5],[1.2,0.5,1.5,1.8,0.0,-0.3],[0.3,-0.5,0.0,2.5,-0.3,0.2]],
  [[0.0,-0.8,0.0,0.8,0.0,-0.5],[0.8,-0.3,-0.5,0.5,0.5,-1.5],[-1.0,-1.5,0.3,1.0,-0.5,-2.0],[0.5,-0.5,0.5,0.6,0.3,0.0],[-0.5,-1.2,-0.3,0.9,-0.3,-1.0],[0.3,-0.6,0.2,0.3,-0.8,-0.3],[-0.2,-1.0,-0.8,1.0,0.2,-0.8],[0.6,0.0,0.4,0.4,-0.2,-1.2]]
 ],
 [ // 25
  [[0.0,0.3,0.5,0.8,1.5,-0.5],[-1.0,0.8,0.0,1.2,2.2,0.3],[1.2,-0.3,1.0,0.3,0.8,-1.5],[0.5,1.0,0.8,1.5,1.2,0.0],[-0.5,0.0,-0.3,0.0,2.0,-1.0],[0.8,0.5,1.2,1.0,0.5,0.5],[-0.3,-0.8,0.3,0.5,1.8,-0.8],[0.3,0.6,-0.5,1.8,1.0,-0.2]],
  [[-1.0,-0.8,-0.3,0.0,0.8,-1.5],[-1.5,-1.2,-0.8,-0.5,0.3,-1.2],[-0.5,-0.3,0.3,0.5,1.5,-0.8],[-1.2,-0.5,-0.5,0.3,1.0,-2.0],[-0.8,-1.0,0.0,-0.3,0.5,-1.0],[-1.3,-0.2,-0.6,0.8,1.2,-1.6],[-0.6,-0.9,0.2,0.2,0.6,-1.3],[-1.1,-0.6,-0.2,-0.2,1.3,-0.6]],
  [[-1.0,-0.5,0.0,0.8,1.5,-1.2],[-2.0,-1.0,-0.5,0.3,1.0,-1.8],[-0.5,0.0,0.5,1.2,2.5,-0.5],[-1.5,-0.8,-0.3,0.5,1.2,-1.0],[-0.8,-0.2,0.3,1.0,2.0,-1.5],[-1.2,-1.0,0.2,0.5,1.8,-0.8],[-1.8,-0.3,-0.2,1.3,1.3,-1.6],[-0.6,-0.6,0.6,0.7,2.2,-1.1]],
  [[-1.5,-1.0,0.0,0.8,1.8,-1.5],[-2.0,-1.3,-0.5,0.3,1.2,-2.0],[-1.0,-0.5,0.5,1.2,2.5,-1.0],[-1.8,-0.8,-0.3,0.5,1.5,-1.8],[-1.2,-1.2,0.3,1.0,2.2,-1.2],[-1.6,-0.6,0.1,0.6,1.9,-1.6],[-1.3,-0.9,-0.2,0.9,2.0,-1.3],[-1.9,-1.1,0.2,0.4,1.4,-1.7]]
 ]
];

// ---------- drawing ----------
const W = 744, H = 492;
const svg = d3.select("body").append("svg").attr("width", W).attr("height", H);

const colLeft  = [15, 115, 217, 315, 418, 519, 620];
const colRight = [100, 201, 304, 403, 503, 606, 708];
const colDiv   = [57, 158, 260, 359, 461, 563, 664];
const rowTop = [42, 144, 245, 301, 402];
const rowMid = [86, 188, null, 345, 447];
const rowBot = [130, 231, 288, 388, 489];
const rowStroke = [1.45, 1.45, 1.0, 1.0, 1.5];

const rowsCfg = [
  {data: scA, dom: domA, ticks: ticksA, colors: colors4},
  {data: scB, dom: domB, ticks: ticksB, colors: colors4},
  {data: scC, dom: domC, ticks: ticksC, colors: colors2},
  {data: scD, dom: domD, ticks: ticksD, colors: colors4},
  {data: scE, dom: domE, ticks: ticksE, colors: colors4}
];

const fmt = v => String(v).replace(/^(-?)0\./, "$1.");
let clipId = 0;
const defs = svg.append("defs");
const plotG = svg.append("g");
const frameG = svg.append("g");

function drawPanel(x0, x1, y0, y1, y, lines, color, sw) {
  const id = "clip" + (clipId++);
  defs.append("clipPath").attr("id", id).append("rect")
    .attr("x", x0).attr("y", y0).attr("width", x1 - x0).attr("height", y1 - y0);
  const x = d3.scaleLinear().domain([0, 5]).range([x0 + 2.5, x1 - 2.5]);
  const line = d3.line().x((d, i) => x(i)).y(d => y(d));
  plotG.append("g").attr("clip-path", `url(#${id})`)
    .selectAll("path").data(lines).join("path")
    .attr("d", line).attr("fill", "none").attr("stroke", color)
    .attr("stroke-width", sw).attr("stroke-linejoin", "round");
}

rowsCfg.forEach((cfg, r) => {
  for (let c = 0; c < 7; c++) {
    const x0 = colLeft[c], x1 = colRight[c], xm = colDiv[c];
    const y0 = rowTop[r], y1 = rowBot[r], ym = rowMid[r];
    const two = ym != null;
    const subs = two ? [[y0, ym], [ym, y1]] : [[y0, y1]];
    subs.forEach((s, si) => {
      const dom = two ? cfg.dom[c][si] : cfg.dom[c];
      const tk = two ? cfg.ticks[c][si] : cfg.ticks[c];
      const y = d3.scaleLinear().domain(dom).range([s[1], s[0]]);
      [[x0, xm], [xm, x1]].forEach((hx, hi) => {
        const pi = two ? si * 2 + hi : hi;
        drawPanel(hx[0], hx[1], s[0], s[1], y, cfg.data[c][pi], cfg.colors[pi], rowStroke[r]);
      });
      const spacing = Math.abs(y(tk[0]) - y(tk[1]));
      const fs = Math.min(9, spacing * 0.98);
      const ax = frameG.append("g").attr("transform", `translate(${x0},0)`)
        .call(d3.axisLeft(y).tickValues(tk).tickSize(3).tickPadding(1.2).tickFormat(fmt));
      ax.select(".domain").remove();
      ax.selectAll("line").attr("stroke", "#444");
      ax.selectAll("text").attr("font-size", fs).attr("fill", "#222")
        .attr("font-family", "Arial, 'Liberation Sans', sans-serif");
    });
    // frame
    const fg = frameG.append("g").attr("fill", "none").attr("stroke", "#3c3c3c").attr("stroke-width", 1.3);
    fg.append("rect").attr("x", x0).attr("y", y0).attr("width", x1 - x0).attr("height", y1 - y0);
    fg.append("line").attr("x1", xm).attr("x2", xm).attr("y1", y0).attr("y2", y1);
    if (two) fg.append("line").attr("x1", x0).attr("x2", x1).attr("y1", ym).attr("y2", ym);
  }
  // row label
  const cy = rowMid[r] != null ? rowMid[r] : (rowTop[r] + rowBot[r]) / 2;
  svg.append("text").attr("x", 711).attr("y", cy + 4.5).text(rowLabels[r])
    .attr("font-size", 11.5).attr("font-weight", "bold").attr("fill", "#111");
});

// column labels
colLabels.forEach((t, c) => {
  svg.append("text").attr("x", colDiv[c]).attr("y", 38.5).attr("text-anchor", "middle")
    .attr("font-size", 11).attr("fill", "#111").text(t);
});

// group headers
const groups = [{x1: 11, x2: 406, letterX: 11}, {x1: 421, x2: 706, letterX: 420}];
groups.forEach((g, i) => {
  svg.append("line").attr("x1", g.x1).attr("x2", g.x2).attr("y1", 26).attr("y2", 26)
    .attr("stroke", "#111").attr("stroke-width", 1.6);
  svg.append("text").attr("x", (g.x1 + g.x2) / 2 + (i === 0 ? -1 : 0)).attr("y", 20.5).attr("text-anchor", "middle")
    .attr("font-size", 12.5).attr("font-weight", "bold").attr("fill", "#111").text(groupLabels[i]);
  svg.append("text").attr("x", g.letterX).attr("y", 11).attr("font-size", 11).attr("font-weight", "bold")
    .attr("fill", "#111").text(panelLetters[i]);
});
</script>
</body></html>
